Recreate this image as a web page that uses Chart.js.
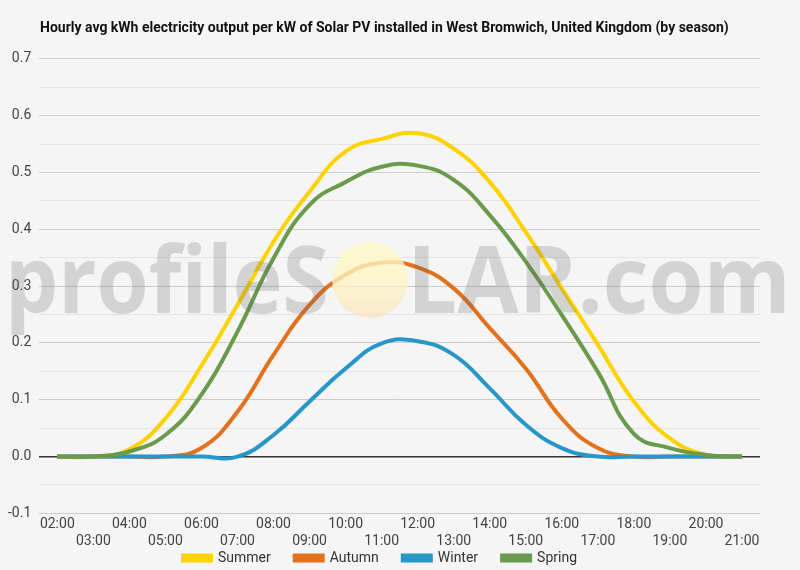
<!DOCTYPE html>
<html>
<head>
<meta charset="utf-8">
<script src="https://cdn.jsdelivr.net/npm/chart.js@4"></script>
<style>
html,body{margin:0;padding:0;background:#f5f5f5;}
#wrap{width:800px;height:570px;position:relative;}
</style>
</head>
<body>
<div id="wrap"><canvas id="c" width="800" height="570"></canvas></div>
<script>
const hours = ['02:00','03:00','04:00','05:00','06:00','07:00','08:00','09:00','10:00','11:00','12:00','13:00','14:00','15:00','16:00','17:00','18:00','19:00','20:00','21:00'];
const summer = [0,0,0.013,0.067,0.16,0.267,0.378,0.466,0.537,0.559,0.569,0.542,0.483,0.395,0.296,0.197,0.097,0.032,0.003,0];
const autumn = [0,0,0,0,0.015,0.079,0.179,0.267,0.32,0.341,0.333,0.296,0.226,0.155,0.067,0.015,0,0,0,0];
const winter = [0,0,0,0,0,0,0.038,0.097,0.155,0.199,0.203,0.179,0.12,0.056,0.015,0,0,0,0,0];
const spring = [0,0,0.009,0.038,0.109,0.22,0.349,0.443,0.483,0.51,0.512,0.487,0.425,0.343,0.249,0.149,0.04,0.015,0.003,0];
const seriesNames = ['Summer','Autumn','Winter','Spring'];
const seriesColors = ['#FCD300','#E4711C','#2697C8','#6A9A4B'];
const yTicks = [-0.1,0,0.1,0.2,0.3,0.4,0.5,0.6,0.7];
const titleText = 'Hourly avg kWh electricity output per kW of Solar PV installed in West Bromwich, United Kingdom (by season)';

const watermark = {
  id:'watermark',
  afterDatasetsDraw(chart){
    const ctx = chart.ctx;
    ctx.save();
    // sun
    const cx=370, cy=280, r=38;
    const g = ctx.createLinearGradient(0, cy-r, 0, cy+r);
    g.addColorStop(0,'rgba(255,251,200,0.8)');
    g.addColorStop(0.5,'rgba(254,246,195,0.75)');
    g.addColorStop(1,'rgba(250,226,190,0.7)');
    ctx.fillStyle=g;
    ctx.beginPath(); ctx.arc(cx,cy,r,0,Math.PI*2); ctx.fill();
    // text
    const size=94;
    ctx.font='700 '+size+'px "Open Sans"';
    ctx.fillStyle='rgba(100,100,100,0.23)';
    ctx.textBaseline='alphabetic';
    ctx.textAlign='left';
    const w1 = ctx.measureText('profileS').width;
    ctx.save();
    ctx.translate(5,313);
    ctx.scale(324/w1,1);
    ctx.fillText('profileS',0,0);
    ctx.restore();
    const w2 = ctx.measureText('LAR.com').width;
    ctx.save();
    ctx.translate(407,313);
    ctx.scale(384/w2,1);
    ctx.fillText('LAR.com',0,0);
    ctx.restore();
    ctx.restore();
  }
};

const bg = {
  id:'bg',
  beforeDraw(chart){
    const ctx=chart.ctx;
    ctx.save();
    ctx.fillStyle='#f5f5f5';
    ctx.fillRect(0,0,chart.width,chart.height);
    ctx.restore();
  },
  afterLayout(chart){
    if(chart.titleBlock){ chart.titleBlock.left = 40; }
    if(chart.legend){ chart.legend.top -= 18; chart.legend.bottom -= 18; }
  }
};

const data = [summer,autumn,winter,spring];
const datasets = seriesNames.map((n,i)=>({
  label:n,
  data:data[i],
  borderColor:seriesColors[i],
  backgroundColor:seriesColors[i],
  borderWidth:4,
  pointRadius:0,
  tension:0.45,
  fill:false,
  order:3-i
}));

new Chart(document.getElementById('c'),{
  type:'line',
  data:{labels:hours,datasets},
  plugins:[bg,watermark],
  options:{
    responsive:false,
    animation:false,
    devicePixelRatio:1,
    layout:{padding:{left:0,right:40,top:10,bottom:-23}},
    plugins:{
      title:{display:true,text:titleText,align:'start',color:'#111',
        font:{family:'Roboto',size:14,weight:'bold'},padding:{top:10,bottom:22}},
      legend:{position:'bottom',
        labels:{boxWidth:28,boxHeight:5,padding:24,color:'#333',font:{family:'Roboto',size:14},
          sort:(a,b)=>a.datasetIndex-b.datasetIndex}},
      tooltip:{enabled:false}
    },
    scales:{
      x:{
        offset:true,
        grid:{display:false},
        border:{display:false},
        ticks:{autoSkip:false,maxRotation:0,color:'#444',font:{family:'Roboto',size:14,lineHeight:1.2},padding:-5,
          callback:function(v,i){const l=hours[i];return i%2===0?[l,'']:['',l];}}
      },
      y:{
        min:-0.1,max:0.7,
        border:{display:false},
        afterBuildTicks:(axis)=>{
          const t=[];
          for(let k=-2;k<=14;k++){t.push({value:Math.round(k*5)/100});}
          axis.ticks=t;
        },
        grid:{
          color:(c)=>{const v=Math.round(c.tick.value*100);
            if(v===0) return '#333';
            return v%10===0?'#cccccc':'#e4e4e4';},
          lineWidth:(c)=>Math.round(c.tick.value*100)===0?1.5:1,
          drawTicks:false
        },
        ticks:{color:'#444',font:{family:'Roboto',size:14},padding:8,
          callback:(v)=>{const k=Math.round(v*100);if(k%10!==0)return '';return (k/100).toFixed(1);}}
      }
    }
  }
});
</script>
</body>
</html>
